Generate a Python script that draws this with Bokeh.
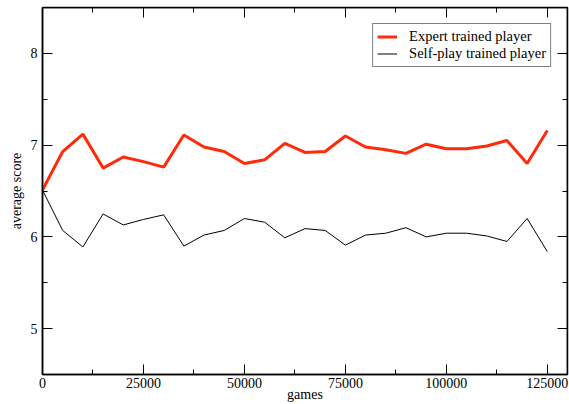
from bokeh.plotting import figure
from bokeh.models import Range1d, LinearAxis, SingleIntervalTicker, NumeralTickFormatter, CustomJSTickFormatter
from bokeh.embed import file_html
from bokeh.resources import INLINE

games = [0, 5000, 10000, 15000, 20000, 25000, 30000, 35000, 40000, 45000, 50000,
         55000, 60000, 65000, 70000, 75000, 80000, 85000, 90000, 95000, 100000,
         105000, 110000, 115000, 120000, 125000]
expert = [6.51, 6.93, 7.12, 6.75, 6.87, 6.82, 6.76, 7.11, 6.98, 6.93, 6.80,
          6.84, 7.02, 6.92, 6.93, 7.10, 6.98, 6.95, 6.91, 7.01, 6.96,
          6.96, 6.99, 7.05, 6.80, 7.16]
selfplay = [6.51, 6.07, 5.89, 6.25, 6.13, 6.19, 6.24, 5.90, 6.02, 6.07, 6.20,
            6.16, 5.99, 6.09, 6.07, 5.91, 6.02, 6.04, 6.10, 6.00, 6.04,
            6.04, 6.01, 5.95, 6.20, 5.84]

FONT = "Liberation Serif"
X_MAX = 130000
Y_MIN, Y_MAX = 4.5, 8.5

p = figure(width=569, height=404, output_backend="svg", toolbar_location=None,
           x_range=Range1d(0, X_MAX), y_range=Range1d(Y_MIN, Y_MAX),
           min_border_top=7, min_border_right=2, min_border_left=42, min_border_bottom=0)
p.xgrid.visible = False
p.ygrid.visible = False
p.outline_line_color = "black"
p.outline_line_width = 1.5
p.background_fill_color = "white"
p.border_fill_color = "white"

p.line(games, expert, line_color="#ff2a0a", line_width=3, legend_label="Expert trained player")
p.line(games, selfplay, line_color="black", line_width=1, legend_label="Self-play trained player")

def style(ax):
    ax.axis_line_width = 1.5
    ax.axis_line_color = "black"
    ax.major_tick_in = 10
    ax.major_tick_out = 0
    ax.minor_tick_in = 5
    ax.minor_tick_out = 0
    ax.major_tick_line_width = 1
    ax.minor_tick_line_width = 1
    ax.major_label_text_font = FONT
    ax.major_label_text_font_size = "14px"
    ax.major_label_text_color = "black"
    ax.axis_label_text_font = FONT
    ax.axis_label_text_font_size = "14px"
    ax.axis_label_text_font_style = "normal"
    ax.axis_label_text_color = "black"

p.xaxis.ticker = SingleIntervalTicker(interval=25000, num_minor_ticks=2)
p.xaxis.formatter = NumeralTickFormatter(format="0")
p.yaxis.ticker = SingleIntervalTicker(interval=1, num_minor_ticks=2)
p.xaxis.axis_label = "games"
p.yaxis.axis_label = "average score"
style(p.xaxis[0])
style(p.yaxis[0])
p.xaxis.major_label_standoff = 3
p.xaxis.axis_label_standoff = -4
p.yaxis.major_label_standoff = 5
p.yaxis.axis_label_standoff = 4

blank = CustomJSTickFormatter(code="return '';")
top = LinearAxis(ticker=SingleIntervalTicker(interval=25000, num_minor_ticks=2), formatter=blank,
                 fixed_location=Y_MAX)
style(top)
top.major_label_standoff = 0
p.add_layout(top, "above")
right = LinearAxis(ticker=SingleIntervalTicker(interval=1, num_minor_ticks=2), formatter=blank,
                   fixed_location=X_MAX)
style(right)
right.major_label_standoff = 0
p.add_layout(right, "right")

lg = p.legend[0]
lg.location = "top_right"
lg.margin = 16
lg.padding = 4
lg.spacing = 0
lg.border_line_color = "black"
lg.border_line_width = 1
lg.background_fill_color = "white"
lg.background_fill_alpha = 1
lg.label_text_font = FONT
lg.label_text_font_size = "14.5px"
lg.label_text_color = "black"
lg.glyph_width = 20
lg.glyph_height = 17
lg.label_height = 17
lg.label_standoff = 12

open("out.html", "w").write(file_html(p, INLINE))
